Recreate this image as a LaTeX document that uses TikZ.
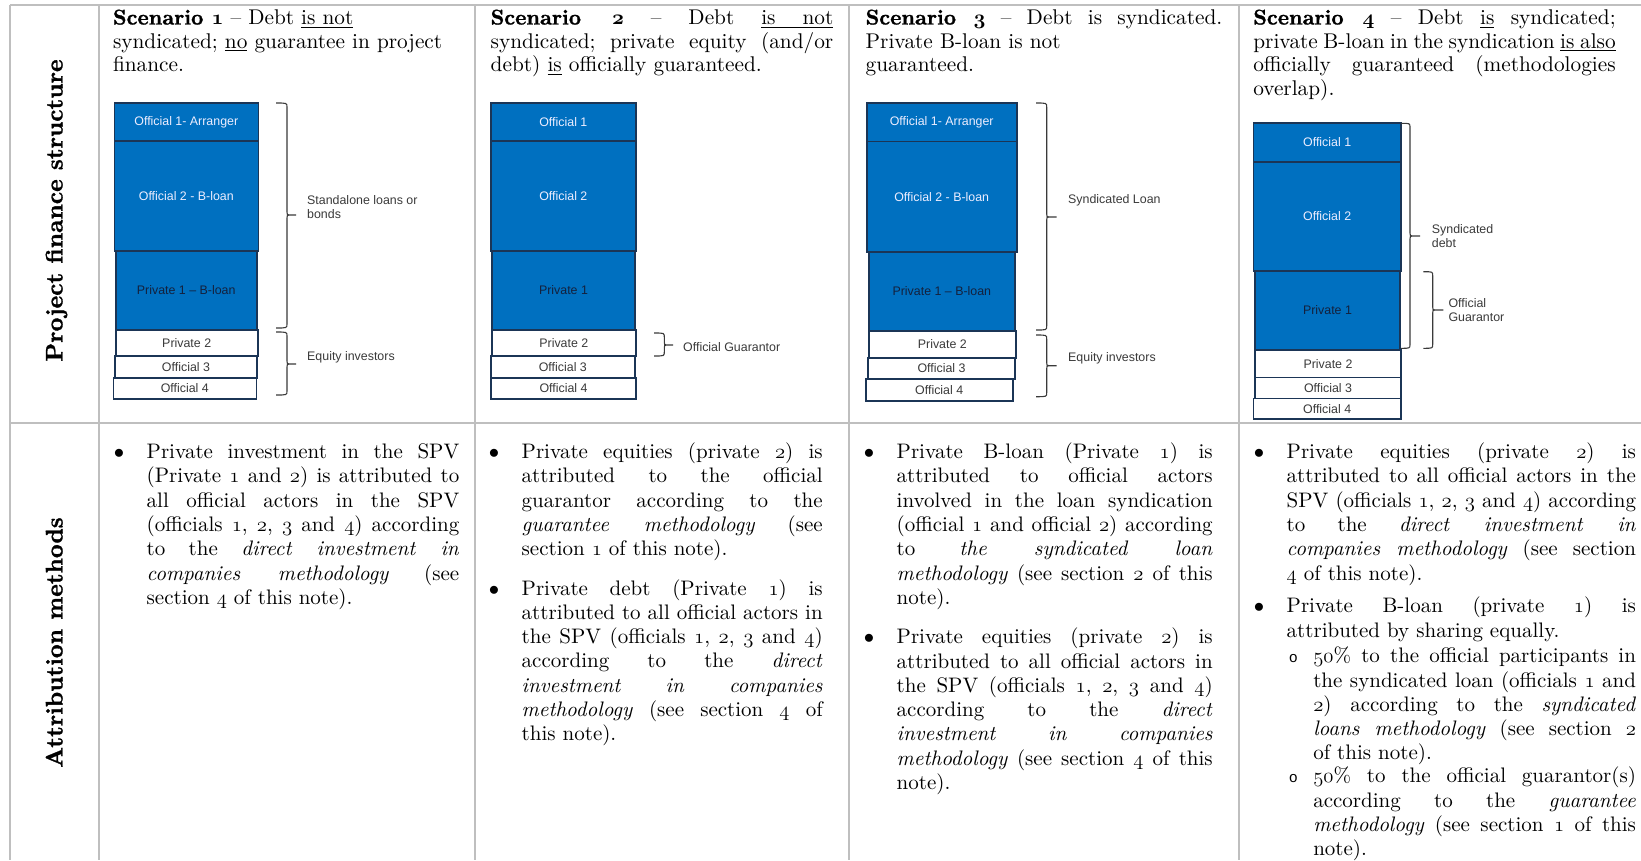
\documentclass[tikz,border=0pt]{standalone}
\usepackage{fontspec}
\setmainfont{lmroman10-regular.otf}[BoldFont=lmroman10-bold.otf,
  ItalicFont=lmroman10-italic.otf, BoldItalicFont=lmroman10-bolditalic.otf,
  BoldFeatures={FakeBold=1.2}]
\newfontfamily\arialf{Liberation Sans}
\newfontfamily\courf{Liberation Mono}

\definecolor{boxblue}{HTML}{0070C0}
\definecolor{boxedge}{HTML}{1B3556}
\definecolor{rulegray}{HTML}{BFBFBF}
\definecolor{lbl}{HTML}{3A3A3A}
\definecolor{darktxt}{HTML}{14213D}

% old-style figures taken from the math italic fonts
\newcommand\osn[1]{{\usefont{OML}{lmm}{m}{it}#1}}
\newcommand\osb[1]{{\usefont{OML}{cmm}{b}{it}#1}}
% underlined word, and an underlined stretchable interword space
\newcommand\ulw[1]{\setbox0\hbox{#1}\rlap{\vrule height -2.2pt depth 3.2pt width \wd0}\box0\relax}
\newcommand\ulsp{\leaders\hrule height -2.2pt depth 3.2pt\hskip\fontdimen2\font plus\fontdimen3\font minus\fontdimen4\font\relax}
% justified line, last (natural) line, and a block of such lines
\newcommand\JL[1]{\hbox to\hsize{#1}}
\newcommand\LL[1]{\hbox to\hsize{#1\hfil}}
\newcommand\para[2]{\vtop{\hsize=#1pt\relax #2}}
\newcommand\bul{\llap{$\bullet$\hskip 22.5pt}}
\newcommand\sbul{\llap{{\courf\fontsize{15}{15}\selectfont o}\hskip 15.5pt}}
% right curly brace: x0 x1 x2 ytop ymid ybottom
\newcommand\curly[6]{%
  \draw[brc] (#1,#4) .. controls (#2,#4) .. (#2,#4+4) -- (#2,#5-3)
    .. controls (#2,#5) .. (#2+3,#5) -- (#3,#5) -- (#2+3,#5)
    .. controls (#2,#5) .. (#2,#5+3) -- (#2,#6-4)
    .. controls (#2,#6) .. (#1,#6);}

\hbadness=10000
\hfuzz=30pt
\frenchspacing

\tikzset{
  rulel/.style={draw=rulegray, line width=1.8pt},
  blk/.style={draw=boxedge, line width=1.6pt, fill=boxblue, inner sep=0pt,
    outer sep=0pt, font=\arialf\fontsize{12.4}{14}\selectfont, text=white!93!blue},
  pblk/.style={blk, text=darktxt},
  wblk/.style={blk, fill=white, text=lbl},
  brc/.style={draw=lbl, line width=1.1pt},
  side/.style={anchor=west, align=left, inner sep=0pt,
    font=\arialf\fontsize{12.4}{14}\selectfont, text=lbl},
  txt/.style={anchor=base west, inner sep=0pt, outer sep=0pt,
    font=\fontsize{21}{24.3}\selectfont, text=black},
  hdr/.style={txt, font=\fontsize{21.3}{23.5}\selectfont},
  rowlab/.style={anchor=base, rotate=90, inner sep=0pt,
    font=\fontsize{24}{28}\selectfont\bfseries},
}

\begin{document}
\begin{tikzpicture}[x=1pt,y=-1pt]
\useasboundingbox (0,0) rectangle (1641,860);
\clip (0,0) rectangle (1641,860);
\fill[white] (0,0) rectangle (1641,860);

% table rules
\draw[rulel] (10,5) -- (1641,5);
\draw[rulel] (10,423) -- (1641,423);
\foreach \xx in {10,99,475,849,1239} \draw[rulel] (\xx,5) -- (\xx,860);

% row headings
\node[rowlab] (rowA) at (62.5,210.5) {Project finance structure};
\node[rowlab] (rowB) at (62.5,642.5) {Attribution methods};

% scenario headings
\node[hdr] (h1) at (113,24.5) {\para{352}{%
  \LL{\textbf{Scenario \osb{1}} – Debt \ulw{is}\ulsp\ulw{not}}
  \LL{syndicated; \ulw{no} guarantee in project}
  \LL{finance.}}};
\node[hdr] (h2) at (490.7,24.5) {\para{342.6}{%
  \JL{\textbf{Scenario \osb{2}} – Debt \ulw{is}\ulsp\ulw{not}}
  \JL{syndicated; private equity (and/or}
  \LL{debt) \ulw{is} officially guaranteed.}}};
\node[hdr] (h3) at (865.7,24.5) {\para{356.6}{%
  \JL{\textbf{Scenario \osb{3}} – Debt is syndicated.}
  \LL{Private B-loan is not}
  \LL{guaranteed.}}};
\node[hdr] (h4) at (1253.3,24.5) {\para{362.4}{%
  \JL{\textbf{Scenario \osb{4}} – Debt \ulw{is} syndicated;}
  \JL{private B-loan in the syndication \ulw{is}\ulsp\ulw{also}}
  \JL{officially guaranteed (methodologies}
  \LL{overlap).}}};

% scenario 1 stack
\node[blk, minimum width=144pt, minimum height=38.3pt] (s1a) at (186.3,121.85) {Official 1- Arranger};
\node[blk, minimum width=144pt, minimum height=110pt] (s1b) at (186.3,196) {Official 2 - B-loan};
\node[pblk, minimum width=141pt, minimum height=79pt] (s1c) at (186.2,290.5) {Private 1 – B-loan};
\node[wblk, minimum width=142pt, minimum height=26pt] (s1d) at (186.7,343) {Private 2};
\node[wblk, minimum width=142pt, minimum height=21.7pt] (s1e) at (186,366.85) {Official 3};
\node[wblk, minimum width=143pt, minimum height=21pt] (s1f) at (184.8,388.5) {Official 4};
\curly{276}{287}{296}{103}{215}{328}
\curly{276}{287}{296}{332}{364}{395}
\node[side] (s1l1) at (307,207) {Standalone loans or\\bonds};
\node[side] (s1l2) at (307,357) {Equity investors};

% scenario 2 stack
\node[blk, minimum width=145.3pt, minimum height=38.3pt] (s2a) at (563.35,121.85) {Official 1};
\node[blk, minimum width=145.3pt, minimum height=110pt] (s2b) at (563.35,196) {Official 2};
\node[pblk, minimum width=143pt, minimum height=79pt] (s2c) at (563.5,290.5) {Private 1};
\node[wblk, minimum width=143.7pt, minimum height=26pt] (s2d) at (563.85,343) {Private 2};
\node[wblk, minimum width=143.7pt, minimum height=22pt] (s2e) at (562.85,367) {Official 3};
\node[wblk, minimum width=145pt, minimum height=21pt] (s2f) at (563.5,388.5) {Official 4};
\curly{654}{664.3}{673}{333}{345}{356}
\node[side] (s2l1) at (683,347) {Official Guarantor};

% scenario 3 stack
\node[blk, minimum width=150pt, minimum height=38.6pt] (s3a) at (941.7,122) {Official 1- Arranger};
\node[blk, minimum width=150pt, minimum height=110.7pt] (s3b) at (941.7,196.65) {Official 2 - B-loan};
\node[pblk, minimum width=146.3pt, minimum height=79pt] (s3c) at (941.85,291.5) {Private 1 – B-loan};
\node[wblk, minimum width=147.3pt, minimum height=27pt] (s3d) at (942.35,344.5) {Private 2};
\node[wblk, minimum width=147pt, minimum height=21pt] (s3e) at (941.5,368.5) {Official 3};
\node[wblk, minimum width=147pt, minimum height=21.7pt] (s3f) at (939.2,389.85) {Official 4};
\curly{1036}{1046.7}{1056.7}{103}{217}{330}
\curly{1036}{1046.7}{1056.7}{335}{365.7}{396.7}
\node[side] (s3l1) at (1068,200) {Syndicated Loan};
\node[side] (s3l2) at (1068,358) {Equity investors};

% scenario 4 stack
\node[blk, minimum width=147.7pt, minimum height=39pt] (s4a) at (1327.15,142.2) {Official 1};
\node[blk, minimum width=147.7pt, minimum height=109.3pt] (s4b) at (1327.15,216.35) {Official 2};
\node[pblk, minimum width=145pt, minimum height=79pt] (s4c) at (1327.5,310.5) {Private 1};
\node[wblk, minimum width=146pt, minimum height=27.3pt] (s4d) at (1328,363.65) {Private 2};
\node[wblk, minimum width=146pt, minimum height=21pt] (s4e) at (1328,387.8) {Official 3};
\node[wblk, minimum width=147.7pt, minimum height=20.7pt] (s4f) at (1327.15,408.65) {Official 4};
\curly{1401}{1410}{1420}{123.3}{236}{348.3}
\curly{1423.3}{1432.7}{1443.3}{271.7}{310}{348.3}
\node[side] (s4l1) at (1431.7,236.3) {Syndicated\\debt};
\node[side] (s4l2) at (1448.3,310) {Official\\Guarantor};

% attribution methods
\node[txt] (b1) at (146.7,458.5) {\para{312.6}{%
  \JL{\bul Private investment in the SPV}
  \JL{(Private \osn{1} and \osn{2}) is attributed to}
  \JL{all official actors in the SPV}
  \JL{(officials \osn{1}, \osn{2}, \osn{3} and \osn{4}) according}
  \JL{to the \textit{direct investment in}}
  \JL{\textit{companies methodology} (see}
  \LL{section \osn{4} of this note).}}};

\node[txt] (b2a) at (521.7,458.5) {\para{301}{%
  \JL{\bul Private equities (private \osn{2}) is}
  \JL{attributed to the official}
  \JL{guarantor according to the}
  \JL{\textit{guarantee methodology} (see}
  \LL{section \osn{1} of this note).}}};
\node[txt] (b2b) at (521.7,595) {\para{301}{%
  \JL{\bul Private debt (Private \osn{1}) is}
  \JL{attributed to all official actors in}
  \JL{the SPV (officials \osn{1}, \osn{2}, \osn{3} and \osn{4})}
  \JL{according to the \textit{direct}}
  \JL{\textit{investment in companies}}
  \JL{\textit{methodology} (see section \osn{4} of}
  \LL{this note).}}};

\node[txt] (b3a) at (896.7,458.5) {\para{316}{%
  \JL{\bul Private B-loan (Private \osn{1}) is}
  \JL{attributed to official actors}
  \JL{involved in the loan syndication}
  \JL{(official \osn{1} and official \osn{2}) according}
  \JL{to \textit{the syndicated loan}}
  \JL{\textit{methodology} (see section \osn{2} of this}
  \LL{note).}}};
\node[txt] (b3b) at (896.7,643.7) {\para{316}{%
  \JL{\bul Private equities (private \osn{2}) is}
  \JL{attributed to all official actors in}
  \JL{the SPV (officials \osn{1}, \osn{2}, \osn{3} and \osn{4})}
  \JL{according to the \textit{direct}}
  \JL{\textit{investment in companies}}
  \JL{\textit{methodology} (see section \osn{4} of this}
  \LL{note).}}};

\node[txt] (b4a) at (1286.7,458.5) {\para{349.3}{%
  \JL{\bul Private equities (private \osn{2}) is}
  \JL{attributed to all official actors in the}
  \JL{SPV (officials \osn{1}, \osn{2}, \osn{3} and \osn{4}) according}
  \JL{to the \textit{direct investment in}}
  \JL{\textit{companies methodology} (see section}
  \LL{\osn{4} of this note).}}};
\node[txt] (b4b) at (1286.7,612.7) {\para{349.3}{%
  \JL{\bul Private B-loan (private \osn{1}) is}
  \LL{attributed by sharing equally.}}};
\node[txt] (b4c) at (1313.3,662.7) {\para{322.7}{%
  \JL{\sbul\osn{50}\% to the official participants in}
  \JL{the syndicated loan (officials \osn{1} and}
  \JL{\osn{2}) according to the \textit{syndicated}}
  \JL{\textit{loans methodology} (see section \osn{2}}
  \LL{of this note).}}};
\node[txt] (b4d) at (1313.3,782.7) {\para{322.7}{%
  \JL{\sbul\osn{50}\% to the official guarantor(s)}
  \JL{according to the \textit{guarantee}}
  \JL{\textit{methodology} (see section \osn{1} of this}
  \LL{note).}}};
\end{tikzpicture}
\end{document}
